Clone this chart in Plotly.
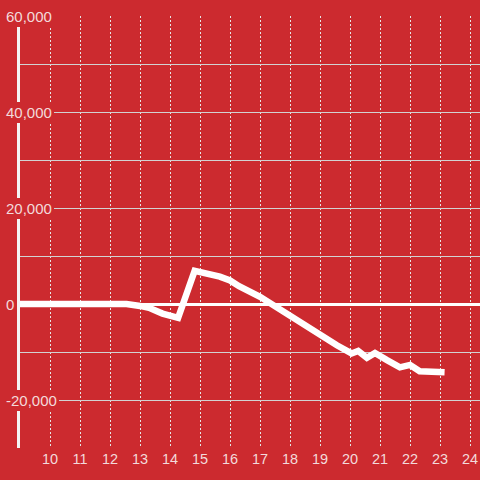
import plotly.graph_objects as go

# Data
minutes = [9, 12.55, 13.0, 13.3, 13.75, 14.27, 14.82, 15.1, 15.66, 16.0, 16.3,
           17.0, 17.66, 18.1, 18.56, 19.0, 19.56, 20.05, 20.27, 20.56, 20.83,
           21.23, 21.66, 22.0, 22.32, 23.15]
values = [0, 0, -400, -800, -2000, -2900, 6900, 6600, 5700, 4900, 3700,
          1500, -1200, -2700, -4600, -6700, -8600, -10300, -9800, -11200, -10200,
          -11700, -13200, -12700, -14000, -14200]

x_ticks = list(range(10, 25))
y_label_vals = [60000, 40000, 20000, 0, -20000]
y_label_text = ["60,000", "40,000", "20,000", "0", "-20,000"]

BG = "#cc2a2f"
LABEL = "#f3dadb"
FONT = "Arial"

fig = go.Figure()
fig.add_trace(go.Scatter(
    x=minutes, y=values, mode="lines",
    line=dict(color="white", width=6.5),
    hoverinfo="skip", showlegend=False,
))

fig.update_layout(
    width=480, height=480,
    margin=dict(l=20, r=0, t=16, b=32),
    paper_bgcolor=BG, plot_bgcolor=BG,
    font=dict(family=FONT, size=14, color=LABEL),
    showlegend=False,
)
fig.update_xaxes(
    range=[9, 24.33],
    tickvals=x_ticks, ticktext=[str(v) for v in x_ticks],
    showgrid=True, gridcolor="#e6e6e6", gridwidth=1, griddash="2px,2px",
    zeroline=False, showline=False, ticks="",
    tickfont=dict(family=FONT, size=14.5, color=LABEL),
    fixedrange=True,
)
fig.update_yaxes(
    range=[-30000, 60000],
    tick0=0, dtick=10000,
    showticklabels=False, ticks="",
    showgrid=True, gridcolor="#d2d2d2", gridwidth=1,
    zeroline=True, zerolinecolor="white", zerolinewidth=3,
    showline=True, linecolor="#f4f4f4", linewidth=3,
    fixedrange=True,
)

for v, t in zip(y_label_vals, y_label_text):
    fig.add_annotation(
        x=0, xref="paper", y=v, yref="y",
        text=t, showarrow=False,
        xanchor="left", yanchor="middle", xshift=-16,
        bgcolor=BG, borderpad=2, borderwidth=0,
        font=dict(family=FONT, size=15, color=LABEL),
    )

fig.write_html(
    "out.html",
    config={"displayModeBar": False},
    post_script="document.body.style.margin='0';document.body.style.background='%s';" % BG,
)
